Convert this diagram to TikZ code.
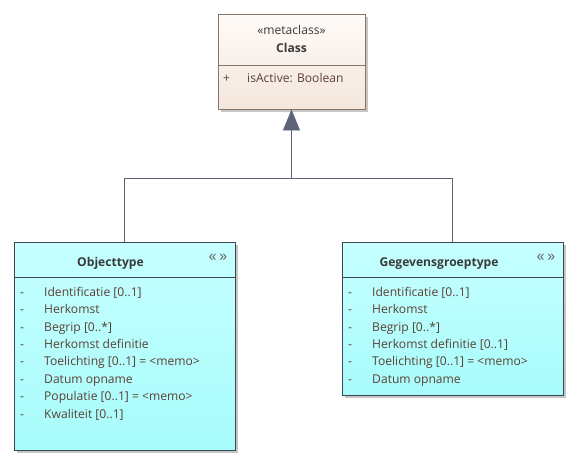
\documentclass[tikz,border=0pt]{standalone}
\usepackage{fontspec}
\setmainfont{Open Sans}
\usetikzlibrary{arrows.meta,shadows}
\definecolor{clsborder}{HTML}{8A7468}
\definecolor{clstop}{HTML}{FFFBF8}
\definecolor{clsbot}{HTML}{F4E6DC}
\definecolor{cyborder}{HTML}{3E4650}
\definecolor{cytop}{HTML}{C6FFFF}
\definecolor{cybot}{HTML}{A8FCFC}
\definecolor{conn}{HTML}{5D6479}
\definecolor{attr}{HTML}{5A4032}
\definecolor{ttl}{HTML}{3A3A3A}
\tikzset{
  uml/.style={rectangle, inner sep=0pt, line width=0.9pt,
    drop shadow={shadow xshift=3pt, shadow yshift=-3pt, fill=black!28, opacity=0.8}},
  clsbox/.style={uml, draw=clsborder, top color=clstop, bottom color=clsbot},
  cybox/.style={uml, draw=cyborder, top color=cytop, bottom color=cybot},
  txt/.style={font=\fontsize{12.1}{14}\selectfont, inner sep=0pt, anchor=base},
  ttltxt/.style={txt, text=ttl, font=\fontsize{12.1}{14}\selectfont\bfseries},
  attrtxt/.style={txt, text=attr, anchor=base west},
  icon/.style={inner sep=0pt, text=black!60, font=\fontsize{16}{17}\selectfont},
  connline/.style={draw=conn, line width=0.9pt},
}
\begin{document}
\begin{tikzpicture}[x=1pt,y=-1pt]
\useasboundingbox (0,0) rectangle (578,467);
% Class box
\node[clsbox, minimum width=147pt, minimum height=95pt] (cls) at (291.5,61.5) {};
\draw[clsborder, line width=0.9pt] (218,65) -- (365,65);
\node[txt, text=ttl] (stereo) at (291.5,34.3) {«metaclass»};
\node[ttltxt] (clsname) at (291.5,52.3) {Class};
\node[attrtxt] (plus) at (223,82.5) {+};
\node[attrtxt] (isact) at (247,82.5) {isActive: Boolean};
% Objecttype
\node[cybox, minimum width=221pt, minimum height=208pt] (obj) at (124.5,346) {};
\draw[cyborder, line width=0.9pt] (14,277) -- (235,277);
\node[ttltxt] (objname) at (110.5,266.3) {Objecttype};
\node[icon] (objicon) at (218,258) {«\,»};
\foreach \t [count=\i] in {Identificatie [0..1], Herkomst, Begrip [0..*], Herkomst definitie, Toelichting [0..1] = <memo>, Datum opname, Populatie [0..1] = <memo>, Kwaliteit [0..1]} {
  \node[attrtxt] (od\i) at (20,{296.2+17.4*(\i-1)}) {-};
  \node[attrtxt] (oa\i) at (44,{296.2+17.4*(\i-1)}) {\t};
}
% Gegevensgroeptype
\node[cybox, minimum width=221pt, minimum height=153pt] (geg) at (452.5,318.5) {};
\draw[cyborder, line width=0.9pt] (342,277) -- (563,277);
\node[ttltxt] (gegname) at (439,266.3) {Gegevensgroeptype};
\node[icon] (gegicon) at (546,258) {«\,»};
\foreach \t [count=\i] in {Identificatie [0..1], Herkomst, Begrip [0..*], Herkomst definitie [0..1], Toelichting [0..1] = <memo>, Datum opname} {
  \node[attrtxt] (gd\i) at (348,{296.2+17.4*(\i-1)}) {-};
  \node[attrtxt] (ga\i) at (372,{296.2+17.4*(\i-1)}) {\t};
}
% Generalization
\coordinate (j) at (291.5,178);
\draw[connline] (obj.north) |- (j);
\draw[connline] (geg.north) |- (j);
\draw[connline, -{Triangle[width=17pt,length=21pt,fill=conn]}] (j) -- (cls.south);
\end{tikzpicture}
\end{document}
